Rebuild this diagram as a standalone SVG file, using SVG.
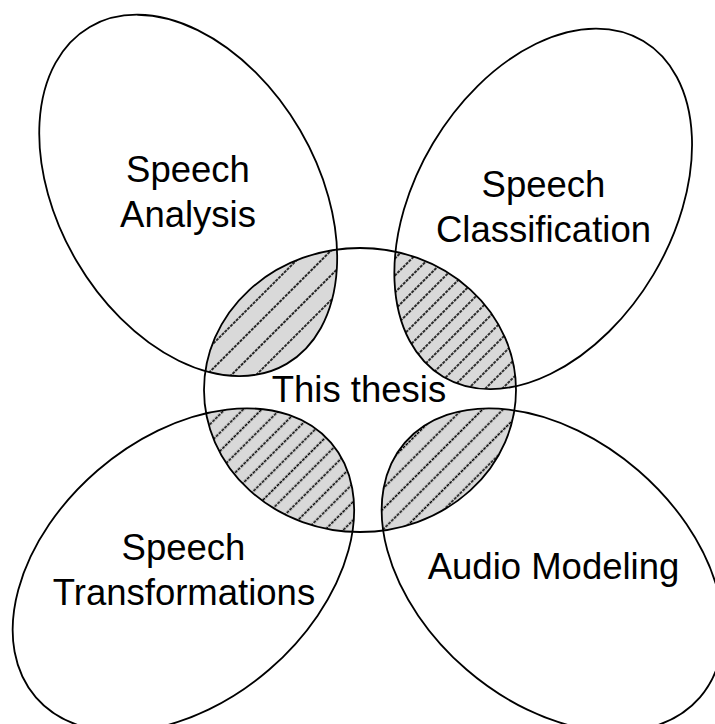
<svg xmlns="http://www.w3.org/2000/svg" width="715" height="724" viewBox="0 0 715 724">
  <style>
    .ring { fill: none; stroke: #000; stroke-width: 1.8; }
    .label { font-family: "Liberation Sans", Arial, sans-serif; font-size: 36.5px; fill: #000; text-anchor: middle; }
    .hl { stroke: #000; stroke-width: 1.6; stroke-dasharray: 3 1; }
  </style>
  <defs>
    <pattern id="hatch-tl" patternUnits="userSpaceOnUse" width="4" height="17.5" patternTransform="rotate(-45)">
      <rect width="4" height="17.5" fill="#d9d9d9"/>
      <line class="hl" x1="0" y1="8.75" x2="4" y2="8.75"/>
    </pattern>
    <pattern id="hatch-tr" patternUnits="userSpaceOnUse" width="4" height="12" patternTransform="rotate(-45)">
      <rect width="4" height="12" fill="#d9d9d9"/>
      <line class="hl" x1="0" y1="6" x2="4" y2="6"/>
    </pattern>
    <pattern id="hatch-bl" patternUnits="userSpaceOnUse" width="4" height="13" patternTransform="rotate(-45)">
      <rect width="4" height="13" fill="#d9d9d9"/>
      <line class="hl" x1="0" y1="6.5" x2="4" y2="6.5"/>
    </pattern>
    <pattern id="hatch-br" patternUnits="userSpaceOnUse" width="4" height="14.5" patternTransform="rotate(-45)">
      <rect width="4" height="14.5" fill="#d9d9d9"/>
      <line class="hl" x1="0" y1="7.25" x2="4" y2="7.25"/>
    </pattern>
    <clipPath id="clip-tl"><ellipse cx="188.2" cy="195.4" rx="195.1" ry="129.5" transform="rotate(59.7 188.2 195.4)"/></clipPath>
    <clipPath id="clip-tr"><ellipse cx="543.2" cy="208.9" rx="195.4" ry="128.3" transform="rotate(-59.2 543.2 208.9)"/></clipPath>
    <clipPath id="clip-bl"><ellipse cx="183.4" cy="570" rx="194.9" ry="131.5" transform="rotate(-40.8 183.4 570)"/></clipPath>
    <clipPath id="clip-br"><ellipse cx="552.4" cy="570" rx="194.9" ry="131.5" transform="rotate(40.8 552.4 570)"/></clipPath>
  </defs>

  <rect width="715" height="724" fill="#fff"/>

  <g id="overlaps">
    <ellipse cx="360" cy="390" rx="156" ry="142" fill="url(#hatch-tl)" clip-path="url(#clip-tl)"/>
    <ellipse cx="360" cy="390" rx="156" ry="142" fill="url(#hatch-tr)" clip-path="url(#clip-tr)"/>
    <ellipse cx="360" cy="390" rx="156" ry="142" fill="url(#hatch-bl)" clip-path="url(#clip-bl)"/>
    <ellipse cx="360" cy="390" rx="156" ry="142" fill="url(#hatch-br)" clip-path="url(#clip-br)"/>
  </g>

  <g id="speech-analysis">
    <ellipse class="ring" cx="188.2" cy="195.4" rx="195.1" ry="129.5" transform="rotate(59.7 188.2 195.4)"/>
    <text class="label" x="188" y="181.5">Speech</text>
    <text class="label" x="188" y="226.5">Analysis</text>
  </g>

  <g id="speech-classification">
    <ellipse class="ring" cx="543.2" cy="208.9" rx="195.4" ry="128.3" transform="rotate(-59.2 543.2 208.9)"/>
    <text class="label" x="543.5" y="197">Speech</text>
    <text class="label" x="543.5" y="242">Classification</text>
  </g>

  <g id="speech-transformations">
    <ellipse class="ring" cx="183.4" cy="570" rx="194.9" ry="131.5" transform="rotate(-40.8 183.4 570)"/>
    <text class="label" x="183.5" y="560">Speech</text>
    <text class="label" x="184" y="605">Transformations</text>
  </g>

  <g id="audio-modeling">
    <ellipse class="ring" cx="552.4" cy="570" rx="194.9" ry="131.5" transform="rotate(40.8 552.4 570)"/>
    <text class="label" x="553.5" y="579">Audio Modeling</text>
  </g>

  <g id="this-thesis">
    <ellipse class="ring" cx="360" cy="390" rx="156" ry="142"/>
    <text class="label" x="359" y="402">This thesis</text>
  </g>
</svg>
